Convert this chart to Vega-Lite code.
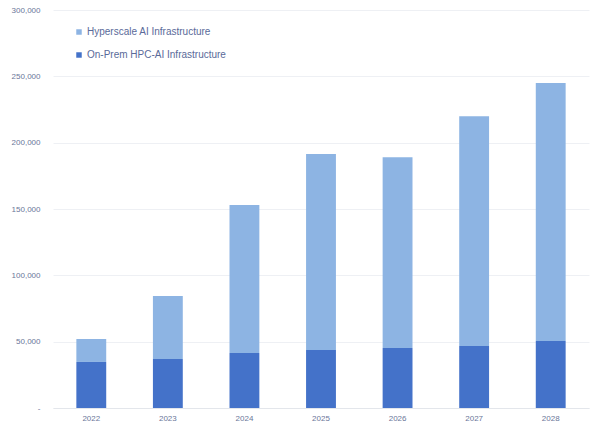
{
  "$schema": "https://vega.github.io/schema/vega-lite/v6.json",
  "autosize": {"type": "none"},
  "width": 536,
  "height": 398,
  "padding": {"left": 53, "top": 10, "right": 11, "bottom": 26},
  "background": "#ffffff",
  "config": {"view": {"stroke": null}, "font": "Liberation Sans"},
  "data": {
    "values": [
      {"year": "2022", "series": "On-Prem HPC-AI Infrastructure", "value": 34700},
      {"year": "2023", "series": "On-Prem HPC-AI Infrastructure", "value": 37000},
      {"year": "2024", "series": "On-Prem HPC-AI Infrastructure", "value": 41400},
      {"year": "2025", "series": "On-Prem HPC-AI Infrastructure", "value": 43700},
      {"year": "2026", "series": "On-Prem HPC-AI Infrastructure", "value": 45200},
      {"year": "2027", "series": "On-Prem HPC-AI Infrastructure", "value": 46700},
      {"year": "2028", "series": "On-Prem HPC-AI Infrastructure", "value": 50500},
      {"year": "2022", "series": "Hyperscale AI Infrastructure", "value": 17300},
      {"year": "2023", "series": "Hyperscale AI Infrastructure", "value": 47400},
      {"year": "2024", "series": "Hyperscale AI Infrastructure", "value": 111600},
      {"year": "2025", "series": "Hyperscale AI Infrastructure", "value": 147700},
      {"year": "2026", "series": "Hyperscale AI Infrastructure", "value": 143800},
      {"year": "2027", "series": "Hyperscale AI Infrastructure", "value": 173300},
      {"year": "2028", "series": "Hyperscale AI Infrastructure", "value": 194500}
    ]
  },
  "mark": {"type": "bar"},
  "encoding": {
    "x": {
      "field": "year",
      "type": "ordinal",
      "title": null,
      "scale": {"paddingInner": 0.61, "paddingOuter": 0.305},
      "axis": {
        "labelAngle": 0,
        "ticks": false,
        "domainColor": "#e3e6eb",
        "labelColor": "#6a7699",
        "labelFontSize": 8,
        "labelPadding": 6
      }
    },
    "y": {
      "field": "value",
      "type": "quantitative",
      "stack": "zero",
      "title": null,
      "scale": {"domain": [0, 300000]},
      "axis": {
        "values": [0, 50000, 100000, 150000, 200000, 250000, 300000],
        "labelExpr": "datum.value == 0 ? '-' : format(datum.value, ',')",
        "domain": false,
        "ticks": false,
        "gridColor": "#eef0f4",
        "labelColor": "#6a7699",
        "labelFontSize": 8,
        "labelPadding": 13
      }
    },
    "color": {
      "field": "series",
      "type": "nominal",
      "scale": {
        "domain": ["Hyperscale AI Infrastructure", "On-Prem HPC-AI Infrastructure"],
        "range": ["#8db4e3", "#4472c9"]
      },
      "legend": {
        "title": null,
        "orient": "none",
        "legendX": 21,
        "legendY": 17,
        "symbolType": "square",
        "symbolSize": 30,
        "symbolStrokeWidth": 0,
        "labelFontSize": 10,
        "labelColor": "#5a6a99",
        "rowPadding": 13,
        "labelOffset": 3
      }
    },
    "order": {"field": "series", "sort": "descending"}
  }
}
